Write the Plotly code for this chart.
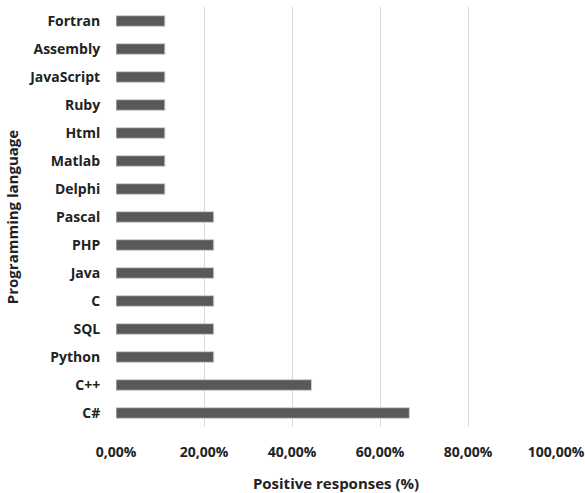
import plotly.graph_objects as go

languages = ["C#", "C++", "Python", "SQL", "C", "Java", "PHP", "Pascal",
             "Delphi", "Matlab", "Html", "Ruby", "JavaScript", "Assembly", "Fortran"]
responses = [0.6667, 0.4444, 0.2222, 0.2222, 0.2222, 0.2222, 0.2222, 0.2222,
             0.1111, 0.1111, 0.1111, 0.1111, 0.1111, 0.1111, 0.1111]
tick_vals = [0, 0.2, 0.4, 0.6, 0.8, 1.0]

fig = go.Figure(go.Bar(
    x=responses, y=languages, orientation="h",
    width=0.38,
    marker=dict(color="#595959", line=dict(color="#d0d0d0", width=1)),
))

font_family = "Open Sans, Lato, sans-serif"
fig.update_layout(
    width=585, height=493,
    margin=dict(l=116, r=29, t=7, b=66, autoexpand=False),
    paper_bgcolor="white", plot_bgcolor="white",
    separators=",.",
    showlegend=False,
    font=dict(family=font_family, size=14, color="#222"),
    xaxis=dict(
        range=[0, 1.0], tickvals=tick_vals, tickformat=".2%",
        showgrid=True, gridcolor="#d9d9d9", gridwidth=1,
        zeroline=False, showline=False,
        tickfont=dict(family=font_family, size=14, color="#222", weight="bold"),
        title=dict(text="<b>Positive responses (%)</b>", font=dict(size=15), standoff=24),
        ticks="outside", ticklen=12, tickcolor="white",
    ),
    yaxis=dict(
        categoryorder="array", categoryarray=languages,
        range=[-0.5, 14.5],
        showgrid=False, zeroline=False, showline=False,
        tickfont=dict(family=font_family, size=14, color="#222", weight="bold"),
        ticks="outside", ticklen=12, tickcolor="white",
        title=dict(text="<b>Programming language</b>", font=dict(size=15), standoff=5),
    ),
)
fig.write_html("out.html", config={"displayModeBar": False},
               post_script="document.body.style.margin='0';")
